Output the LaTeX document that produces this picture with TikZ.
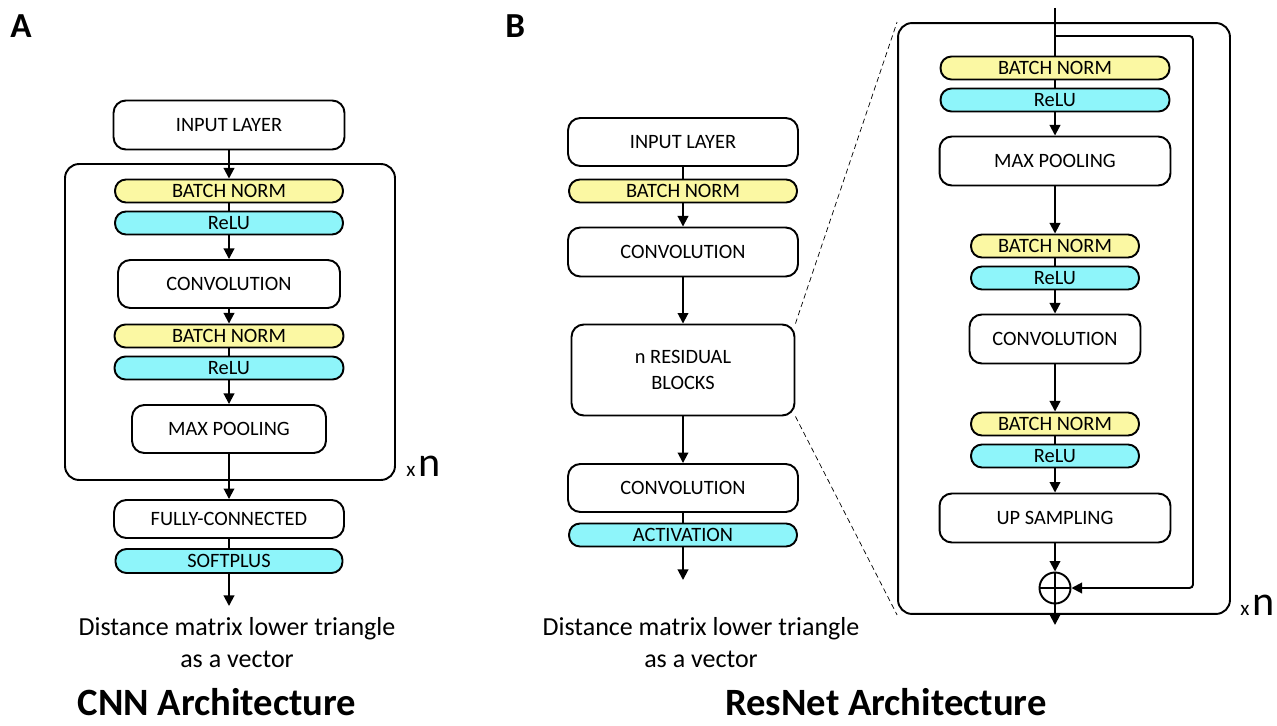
\documentclass[tikz,border=0pt]{standalone}
\usepackage{fontspec}
\setmainfont{Carlito}
\usetikzlibrary{arrows.meta, positioning, calc}
\definecolor{bnyellow}{HTML}{FBF8A3}
\definecolor{relucyan}{HTML}{8EF5FA}

\begin{document}
\begin{tikzpicture}[x=0.02cm, y=-0.02cm,
    layer/.style={draw, line width=1.1pt, rounded corners=7pt, fill=white, inner sep=0pt, font=\fontsize{11.6}{14.5}\selectfont, align=center},
    bnorm/.style={layer, fill=bnyellow, rounded corners=0.22cm, minimum height=0.46cm},
    relu/.style={layer, fill=relucyan, rounded corners=0.22cm, minimum height=0.46cm},
    group/.style={draw, line width=1.1pt, rounded corners=8pt, inner sep=0pt},
    arr/.style={-{Triangle[length=6pt, width=6pt]}, line width=1.1pt},
    link/.style={line width=1.1pt},
    caption/.style={font=\fontsize{14.8}{18.2}\selectfont, align=center, anchor=north},
    title/.style={font=\bfseries\fontsize{22}{24}\selectfont, anchor=base, inner sep=0pt},
    panel/.style={font=\bfseries\fontsize{20}{22}\selectfont, anchor=base west, inner sep=0pt}]

    \useasboundingbox (0,0) rectangle (1277,726);

    % Panel A: CNN
    \node[panel] (labA) at (10,38) {A};
    \node[layer, minimum width=4.62cm, minimum height=0.98cm] (inA) at (229,125) {INPUT LAYER};
    \node[group, minimum width=6.6cm, minimum height=6.32cm] (loopA) at (230,322) {};
    \node[bnorm, minimum width=4.56cm] (bnA1) at (229,191) {BATCH NORM};
    \node[relu, minimum width=4.56cm] (reA1) at (229,223) {ReLU};
    \node[layer, minimum width=4.44cm, minimum height=0.96cm] (convA) at (229,284) {CONVOLUTION};
    \node[bnorm, minimum width=4.58cm] (bnA2) at (229,336) {BATCH NORM};
    \node[relu, minimum width=4.58cm] (reA2) at (229,368) {ReLU};
    \node[layer, minimum width=3.88cm, minimum height=0.96cm] (poolA) at (229,429) {MAX POOLING};
    \node[anchor=base west, inner sep=0pt] (repA) at (406,476) {{\fontsize{12}{12}\selectfont x}\,{\fontsize{24}{24}\selectfont n}};
    \node[layer, minimum width=4.6cm, minimum height=0.76cm] (fcA) at (229,519) {FULLY-CONNECTED};
    \node[relu, minimum width=4.54cm, minimum height=0.48cm] (spA) at (229,561) {SOFTPLUS};
    \coordinate (outA) at (229,606);
    \node[caption] (capA) at (237,611) {Distance matrix lower triangle\\as a vector};
    \node[title] (titA) at (217,715) {CNN Architecture};

    \draw[arr] (inA) -- (bnA1);
    \draw[link] (bnA1) -- (reA1);
    \draw[arr] (reA1) -- (convA);
    \draw[arr] (convA) -- (bnA2);
    \draw[link] (bnA2) -- (reA2);
    \draw[arr] (reA2) -- (poolA);
    \draw[arr] (poolA) -- (fcA);
    \draw[link] (fcA) -- (spA);
    \draw[arr] (spA) -- (outA);

    % Panel B: ResNet
    \node[panel] (labB) at (505,38) {B};
    \node[layer, minimum width=4.6cm, minimum height=0.96cm] (inB) at (683,142) {INPUT LAYER};
    \node[bnorm, minimum width=4.56cm] (bnB) at (683,191) {BATCH NORM};
    \node[layer, minimum width=4.6cm, minimum height=0.98cm] (convB1) at (683,252) {CONVOLUTION};
    \node[layer, minimum width=4.46cm, minimum height=1.82cm] (resB) at (683,370) {n RESIDUAL\\BLOCKS};
    \node[layer, minimum width=4.6cm, minimum height=0.96cm] (convB2) at (683,488) {CONVOLUTION};
    \node[relu, minimum width=4.56cm] (actB) at (683,535) {ACTIVATION};
    \coordinate (outB) at (683,580);
    \node[caption] (capB) at (701,611) {Distance matrix lower triangle\\as a vector};
    \node[title] (titB) at (886,715) {ResNet Architecture};

    \draw[link] (inB) -- (bnB);
    \draw[arr] (bnB) -- (convB1);
    \draw[arr] (convB1) -- (resB);
    \draw[arr] (resB) -- (convB2);
    \draw[link] (convB2) -- (actB);
    \draw[arr] (actB) -- (outB);

    % Residual block (zoom)
    \node[group, minimum width=6.64cm, minimum height=11.82cm] (blkR) at (1064,318.5) {};
    \draw[densely dashed, line width=0.4pt] (resB.north east) -- (blkR.north west);
    \draw[densely dashed, line width=0.4pt] (resB.south east) -- (blkR.south west);
    \coordinate (topR) at (1055,8);
    \coordinate (splitR) at (1055,36);
    \coordinate (skipR) at (1193,36);
    \node[bnorm, minimum width=4.58cm] (bnR1) at (1055,68) {BATCH NORM};
    \node[relu, minimum width=4.58cm] (reR1) at (1055,100) {ReLU};
    \node[layer, minimum width=4.62cm, minimum height=0.98cm] (poolR) at (1055,161) {MAX POOLING};
    \node[bnorm, minimum width=3.36cm] (bnR2) at (1055,246) {BATCH NORM};
    \node[relu, minimum width=3.36cm] (reR2) at (1055,278) {ReLU};
    \node[layer, minimum width=3.42cm, minimum height=0.98cm] (convR) at (1055,339) {CONVOLUTION};
    \node[bnorm, minimum width=3.36cm] (bnR3) at (1055,424) {BATCH NORM};
    \node[relu, minimum width=3.36cm] (reR3) at (1055,456) {ReLU};
    \node[layer, minimum width=4.62cm, minimum height=0.98cm] (upR) at (1055,518) {UP SAMPLING};
    \node[circle, draw, line width=1.1pt, minimum size=0.62cm, inner sep=0pt] (sumR) at (1055,588) {};
    \draw[link] (sumR.west) -- (sumR.east);
    \draw[link] (sumR.north) -- (sumR.south);
    \coordinate (outR) at (1055,625);
    \node[anchor=base west, inner sep=0pt] (repR) at (1240,615) {{\fontsize{12}{12}\selectfont x}\,{\fontsize{24}{24}\selectfont n}};

    \draw[link] (topR) -- (bnR1);
    \draw[link] (bnR1) -- (reR1);
    \draw[arr] (reR1) -- (poolR);
    \draw[arr] (poolR) -- (bnR2);
    \draw[link] (bnR2) -- (reR2);
    \draw[arr] (reR2) -- (convR);
    \draw[arr] (convR) -- (bnR3);
    \draw[link] (bnR3) -- (reR3);
    \draw[arr] (reR3) -- (upR);
    \draw[arr] (upR) -- (sumR);
    \draw[arr, rounded corners=2pt] (splitR) -- (skipR) |- (sumR);
    \draw[arr] (sumR) -- (outR);
\end{tikzpicture}
\end{document}
